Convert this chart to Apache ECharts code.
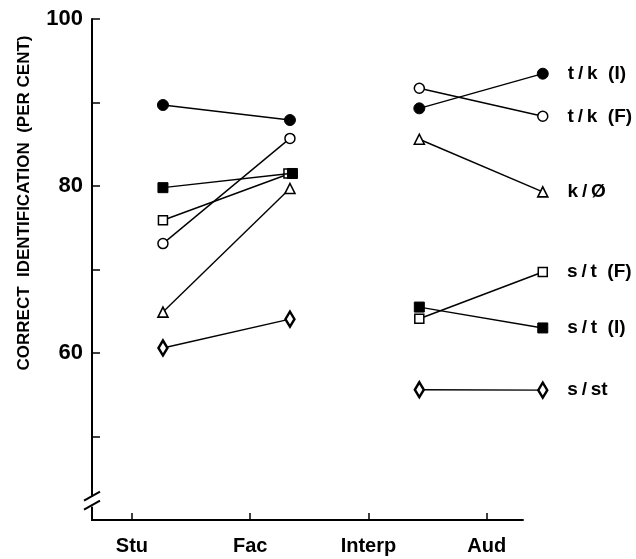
<!DOCTYPE html>
<html>
<head>
<meta charset="utf-8">
<script src="https://cdn.jsdelivr.net/npm/echarts@6/dist/echarts.min.js"></script>
<style>html,body{margin:0;padding:0;background:#fff}#c{width:636px;height:559px}</style>
</head>
<body>
<div id="c"></div>
<script>
// Conditions (x-axis categories) and tick positions on the value x axis
const categories = ['Stu', 'Fac', 'Interp', 'Aud'];
const categoryTicks = [1, 2, 3, 4];
// Where each condition's points sit on the x axis
const pointX = [1.262, 2.336, 3.43, 4.474];

// Series names (labels at the right end)
const seriesNames = ['t/k (I)', 't/k (F)', 'k/Ø', 's/t (F)', 's/t (I)', 's/st'];

// Values per condition: Stu, Fac, Interp, Aud
const tkI = [89.7, 87.9, 89.3, 93.45];
const tkF = [73.1, 85.7, 91.7, 88.35];
const kO  = [64.9, 79.7, 85.6, 79.3];
const stF = [75.9, 81.5, 64.1, 69.7];
const stI = [79.8, 81.5, 65.5, 63.0];
const sSt = [60.6, 64.05, 55.6, 55.55];

// Y axis ticks / labels
const yTicks = [50, 60, 70, 80, 90, 100];
const yLabels = [60, 80, 100];

const seriesValues = [tkI, tkF, kO, stF, stI, sSt];
const seriesSymbols = [
  {symbol: 'circle', size: 11, fill: '#000', bw: 1},
  {symbol: 'circle', size: 10, fill: '#fff', bw: 1.5},
  {symbol: 'triangle', size: 10, fill: '#fff', bw: 1.6},
  {symbol: 'rect', size: 9, fill: '#fff', bw: 1.5},
  {symbol: 'rect', size: 10, fill: '#000', bw: 1},
  {symbol: 'path://M0,-1L0.62,0L0,1L-0.62,0Z', size: [9, 15], fill: '#fff', bw: 2.6}
];

const X_MIN = 0.662, X_AXIS_END = 4.313, X_MAX = 4.662;

const chart = echarts.init(document.getElementById('c'), null, {renderer: 'canvas'});
const font = 'Liberation Sans, Arial, Helvetica, sans-serif';

// wider, typewriter-like spacing of the end labels
const spaced = (t) => t.replace(/\//g, '\u2009/\u2009').replace(/ \(/g, '  (');

const series = [];
seriesValues.forEach((vals, i) => {
  const s = seriesSymbols[i];
  [[0, 1], [2, 3]].forEach((pair, p) => {
    series.push({
      type: 'line',
      name: seriesNames[i] + (p ? '' : ' a'),
      data: pair.map(k => {
        const item = {value: [pointX[k], vals[k]]};
        // the two overlapping squares at "Fac" are drawn side by side in the figure
        if (k === 1 && i === 4) item.symbolOffset = [2.5, 0];
        if (k === 1 && i === 3) item.symbolOffset = [-1.5, 0];
        return item;
      }),
      clip: false,
      symbol: s.symbol,
      symbolSize: s.size,
      showAllSymbol: true,
      z: i === 4 ? 3 : 2,
      lineStyle: {color: '#000', width: 1.4},
      itemStyle: {color: s.fill, borderColor: '#000', borderWidth: s.bw, opacity: 1},
      label: {
        show: p === 1,
        position: 'right',
        distance: 19,
        color: '#000',
        fontFamily: font,
        fontWeight: 'bold',
        fontSize: 19,
        formatter: (prm) => prm.dataIndex === 1 ? spaced(seriesNames[i]) : ''
      },
      emphasis: {disabled: true},
      animation: false
    });
  });
});

chart.setOption({
  animation: false,
  backgroundColor: '#fff',
  grid: {left: 92, right: 71, top: 19, bottom: 39, containLabel: false},
  xAxis: {
    type: 'value',
    min: X_MIN, max: X_MAX,
    splitLine: {show: false},
    axisLine: {show: false},
    axisTick: {show: true, inside: true, length: 7, customValues: categoryTicks, lineStyle: {color: '#000', width: 1.5}},
    axisLabel: {
      customValues: categoryTicks,
      formatter: (v) => categories[Math.round(v) - 1] || '',
      color: '#000', fontFamily: font, fontWeight: 'bold', fontSize: 20, margin: 16
    }
  },
  yAxis: {
    type: 'value',
    min: 40, max: 100, interval: 10,
    splitLine: {show: false},
    axisLine: {show: true, lineStyle: {color: '#000', width: 2}},
    axisTick: {show: true, inside: true, length: 8, customValues: yTicks, lineStyle: {color: '#000', width: 1.5}},
    axisLabel: {
      customValues: yLabels,
      color: '#000', fontFamily: font, fontWeight: 'bold', fontSize: 22, margin: 9
    }
  },
  series: series
});

// x-axis line (ends before the right-hand labels), axis-break marks, rotated axis title
const p0 = chart.convertToPixel({gridIndex: 0}, [X_MIN, 40]);
const p1 = chart.convertToPixel({gridIndex: 0}, [X_AXIS_END, 40]);
const brk = chart.convertToPixel({gridIndex: 0}, [X_MIN, 42.2]);
const bx = brk[0], by = brk[1];
chart.setOption({
  graphic: [
    {type: 'line', shape: {x1: p0[0] - 1, y1: p0[1], x2: p1[0], y2: p1[1]}, style: {stroke: '#000', lineWidth: 2}, z: 99},
    {type: 'rect', shape: {x: bx - 4, y: by - 5, width: 8, height: 10}, style: {fill: '#fff'}, z: 100},
    {type: 'line', shape: {x1: bx - 8, y1: by - 1, x2: bx + 8, y2: by - 10}, style: {stroke: '#000', lineWidth: 2}, z: 101},
    {type: 'line', shape: {x1: bx - 8, y1: by + 8, x2: bx + 8, y2: by - 1}, style: {stroke: '#000', lineWidth: 2}, z: 101},
    {
      type: 'text', x: 24, y: 203, rotation: Math.PI / 2,
      style: {
        text: 'CORRECT  IDENTIFICATION  (PER CENT)',
        fill: '#000', font: 'bold 17px ' + font,
        align: 'center', verticalAlign: 'middle'
      }
    }
  ]
});
</script>
</body>
</html>
